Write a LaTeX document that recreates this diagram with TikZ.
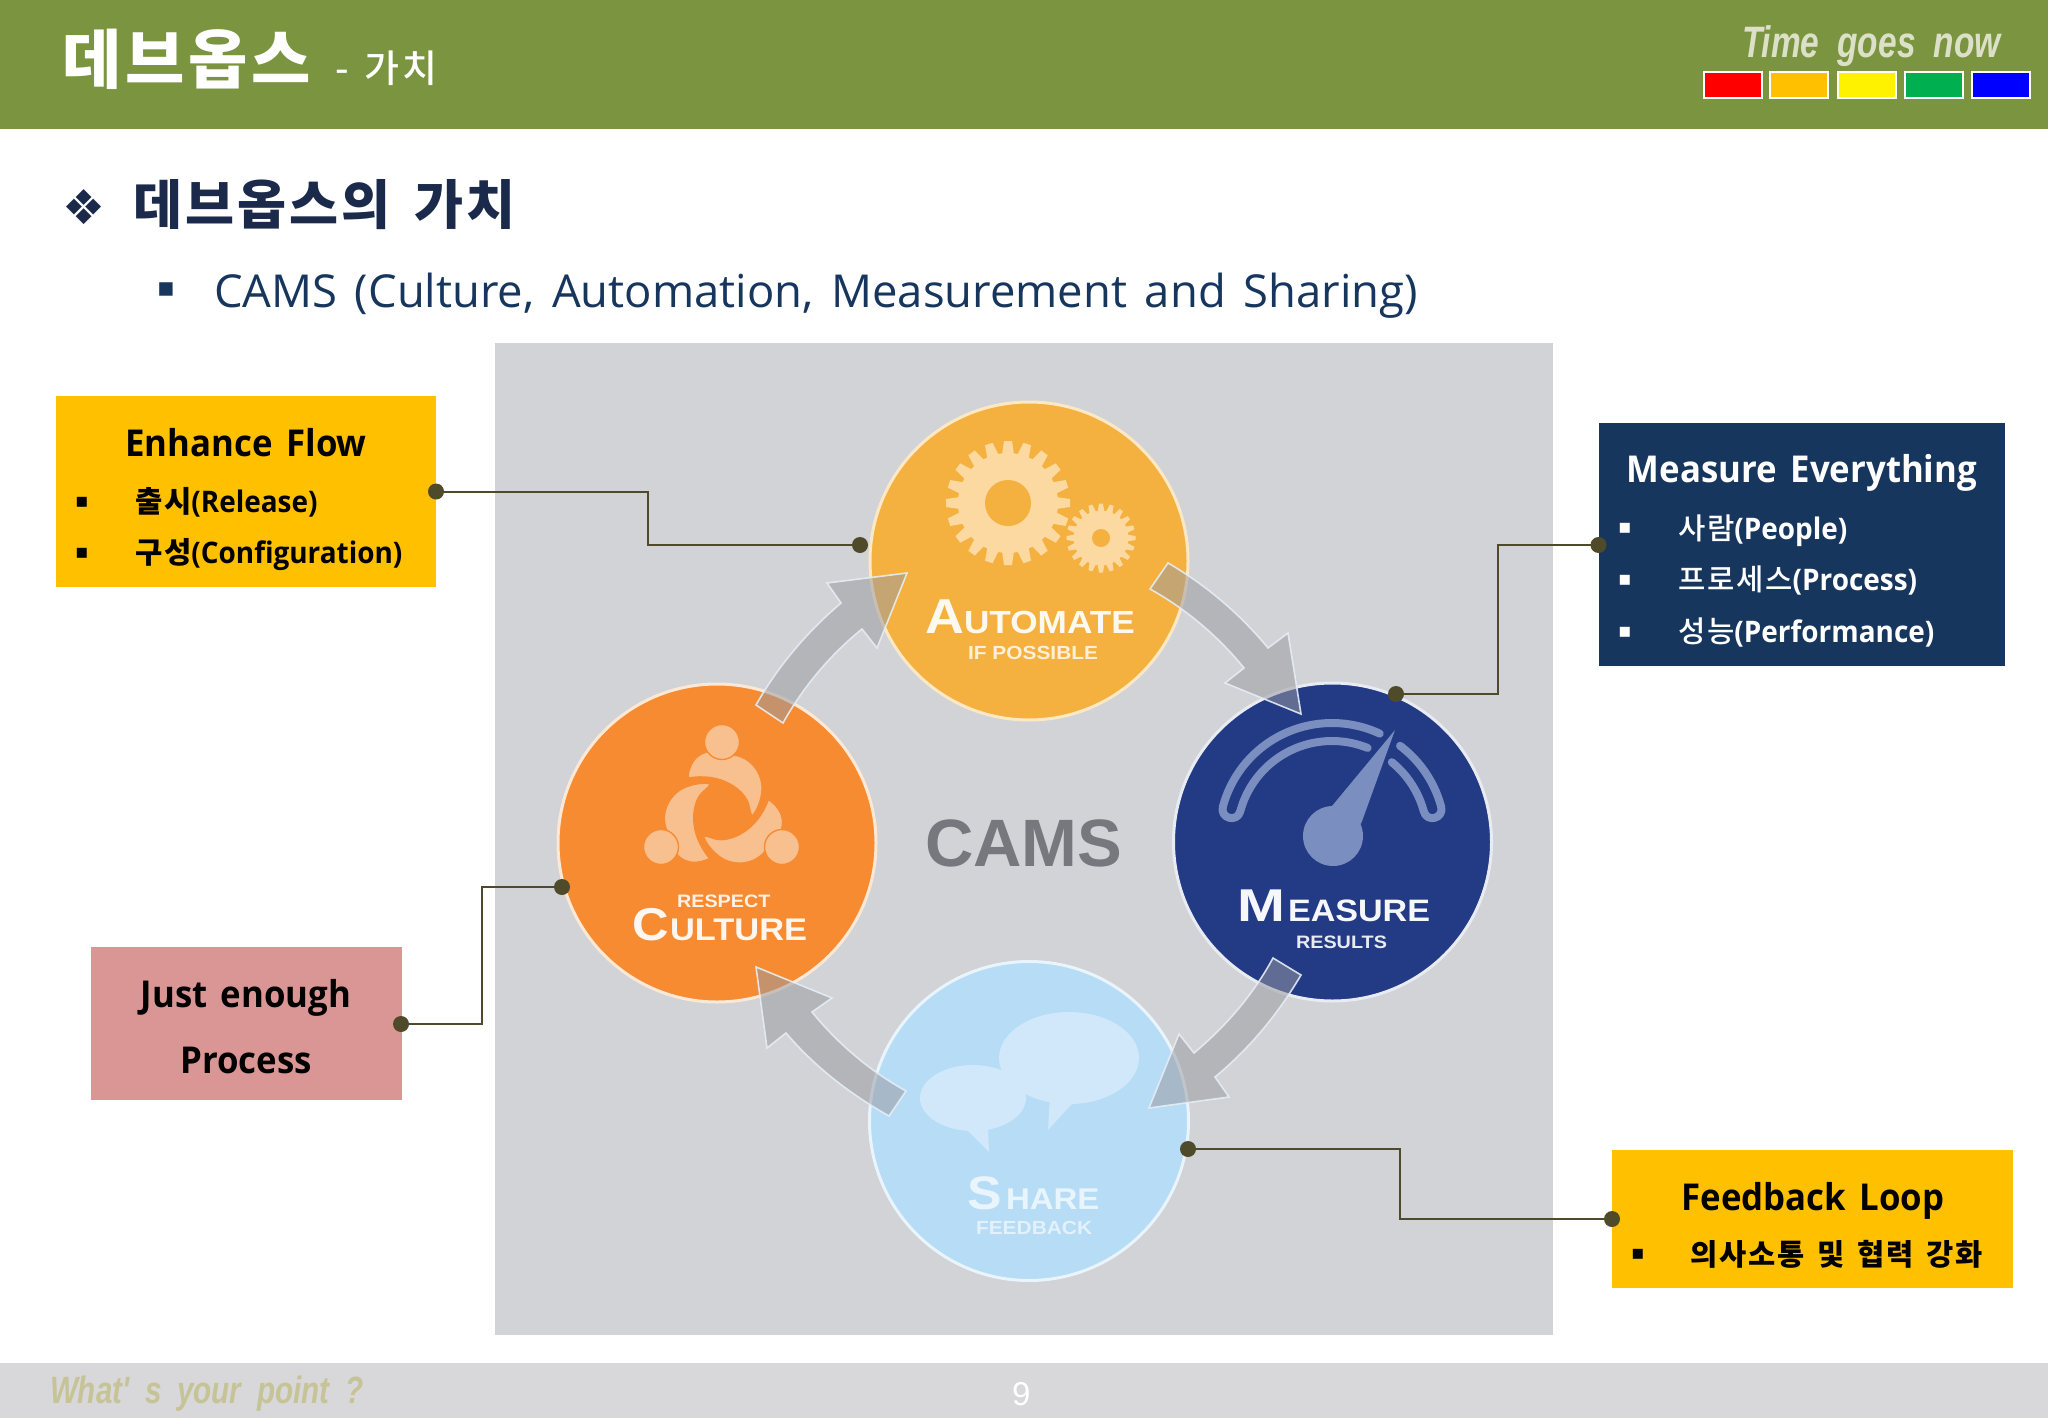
\documentclass[tikz,border=0pt]{standalone}
\usepackage{fontspec}
\setmainfont{Open Sans}[WordSpace=1.5]
\newfontfamily\seg{Open Sans}[WordSpace=1.5,FakeStretch=0.94]
\newfontfamily\kr{Noto Sans CJK KR}
\newfontfamily\krw{Noto Sans CJK KR}[LetterSpace=6,WordSpace=1.5]
\newfontfamily\krm{Noto Sans CJK KR Medium}[LetterSpace=6,WordSpace=1.5]
\newfontfamily\dv{DejaVu Sans}
\newfontfamily\wid{Liberation Sans}[FakeStretch=1.1]
\newfontfamily\widm{Liberation Sans}[FakeStretch=1.25]
\newfontfamily\nar{Liberation Sans}[FakeStretch=0.76,WordSpace=1.95]
\newfontfamily\narf{Liberation Sans}[FakeStretch=0.78,WordSpace=1.9]
\newfontfamily\lib{Liberation Sans}
\newcommand\pxs[1]{\fontsize{#1}{#1}\selectfont}
\definecolor{hdr}{HTML}{7A943F}
\definecolor{foot}{HTML}{D8D7DA}
\definecolor{panel}{HTML}{D1D3D6}
\definecolor{navy}{HTML}{17365D}
\definecolor{amber}{HTML}{FFC000}
\definecolor{rosec}{HTML}{D99694}
\definecolor{leadc}{HTML}{4F4A2A}
\definecolor{cauto}{HTML}{F5B13F}
\definecolor{ccult}{HTML}{F68B32}
\definecolor{cmeas}{HTML}{233A85}
\definecolor{cshar}{HTML}{B7DCF5}
\definecolor{gearc}{HTML}{FBD9A0}
\definecolor{peop}{HTML}{F9C08F}
\definecolor{gauge}{HTML}{7A8EBF}
\definecolor{bubb}{HTML}{D0E8FA}
\definecolor{arrf}{HTML}{999AA0}
\definecolor{arrl}{HTML}{E6EDF5}
\definecolor{headc}{HTML}{1B2A4A}
\definecolor{tgnc}{HTML}{DDE0C8}
\definecolor{wypc}{HTML}{C6C496}
\definecolor{camsc}{HTML}{76787E}
\definecolor{swg}{HTML}{00B050}
\tikzset{
  txt/.style={inner sep=0pt,outer sep=0pt,anchor=base west},
  ctxt/.style={inner sep=0pt,outer sep=0pt,anchor=base},
  boxn/.style={rectangle,inner sep=0pt,outer sep=0pt,draw=none,anchor=north west},
  disc/.style={circle,inner sep=0pt,outer sep=0pt,minimum size=#1*2,line width=3pt},
  dotn/.style={circle,fill=leadc,inner sep=0pt,outer sep=0pt,minimum size=16pt},
  leader/.style={draw=leadc,line width=2pt},
  blockarrow/.style={fill=arrf,fill opacity=.52,draw=arrl,draw opacity=.9,line width=1.6pt,line join=miter},
  swatch/.style={rectangle,draw=white,line width=2pt,inner sep=0pt,outer sep=0pt,minimum width=58pt,minimum height=26pt},
  bul/.style={inner sep=0pt,outer sep=0pt,anchor=center},
}
\begin{document}
\begin{tikzpicture}[x=1pt,y=-1pt]
\useasboundingbox (0,0) rectangle (2048,1418);
\fill[white] (0,0) rectangle (2048,1418);
% bars
\fill[hdr] (0,0) rectangle (2048,129);
\fill[foot] (0,1363) rectangle (2048,1418);
\node[txt,text=white] (title) at (62,84) {\krw\bfseries\pxs{64.5}데브옵스};
\node[txt,text=white] (subt) at (335,83) {\krm\pxs{38}- 가치};
\node[txt,text=tgnc] (tgn) at (1742,58) {\nar\bfseries\itshape\pxs{44}Time goes now};
\node[swatch,fill=red] (s1) at (1732.5,85.5) {};
\node[swatch,fill=amber] (s2) at (1799,85.5) {};
\node[swatch,fill=yellow] (s3) at (1866.5,85.5) {};
\node[swatch,fill=swg] (s4) at (1933.5,85.5) {};
\node[swatch,fill=blue] (s5) at (2001,85.5) {};
\node[txt,text=wypc] (wyp) at (50,1403) {\narf\bfseries\itshape\pxs{38}What' s your point ?};
\node[txt,text=white] (pg) at (1012,1405) {\lib\pxs{33}9};
% headings
\node[bul,text=headc] (hb) at (84,207) {\dv\pxs{48}❖};
\node[txt,text=headc] (h1) at (133,224) {\krw\bfseries\pxs{53.3}데브옵스의 가치};
\node[bul,text=navy] (hb2) at (166,290) {\dv\pxs{27}▪};
\node[txt,text=navy] (h2) at (214,307) {\pxs{45.4}CAMS (Culture, Automation, Measurement and Sharing)};
% panel
\node[boxn,fill=panel,minimum width=1058pt,minimum height=992pt] (panel) at (495,343) {};
% circles
\node[disc=159pt,fill=cauto,draw=cauto!30!white] (auto) at (1029,561) {};
\node[disc=159pt,fill=ccult,draw=ccult!20!white] (cult) at (717,843) {};
\node[disc=159pt,fill=cmeas,draw=white!90!cmeas] (meas) at (1332.5,842) {};
\node[disc=159.5pt,fill=cshar,draw=cshar!30!white] (shar) at (1029,1121) {};
% gears
\begin{scope}[shift={(1008,503)}]
\foreach \a in {0,18,...,342} \fill[gearc,rotate=\a] (-6,-48) -- (-4,-62) -- (4,-62) -- (6,-48) -- cycle;
\fill[gearc] (0,0) circle (50);
\fill[cauto] (0,0) circle (23);
\end{scope}
\begin{scope}[shift={(1101,538)}]
\foreach \a in {0,18,...,342} \fill[gearc,rotate=\a] (-3.4,-26) -- (-2,-34.5) -- (2,-34.5) -- (3.4,-26) -- cycle;
\fill[gearc] (0,0) circle (27.5);
\fill[cauto] (0,0) circle (9);
\end{scope}
% people
\foreach \r in {0,120,240}{
  \filldraw[fill=peop,draw=ccult,line width=1.2pt,rotate around={\r:(722,812)}] (688,778) .. controls (689,765) and (695,755) .. (707,752) -- (722,756)
    .. controls (745,750) and (763,770) .. (762,790) .. controls (761,802) and (756,812) .. (752,816)
    .. controls (749,810) and (750,805) .. (747,800) .. controls (742,790) and (722,772) .. (688,778) -- cycle;
}
\foreach \p in {(722,742),(661,847),(782,847)}
  \filldraw[fill=peop,draw=ccult,line width=1.4pt] \p circle (17.5);
% gauge
\draw[gauge,line width=8pt,line cap=round,line join=round]
  plot[domain=65:165,samples=40,smooth] ({1332+113*cos(\x)},{836-113*sin(\x)})
  .. controls (1219.8,818.4) and (1237.1,823) .. (1240.2,811.4)
  -- plot[domain=165:68,samples=40,smooth] ({1332+95*cos(\x)},{836-95*sin(\x)});
\draw[gauge,line width=8pt,line cap=round,line join=round]
  plot[domain=53:15,samples=20,smooth] ({1332+113*cos(\x)},{836-113*sin(\x)})
  .. controls (1444.2,818.4) and (1426.9,823) .. (1423.8,811.4)
  -- plot[domain=15:51,samples=20,smooth] ({1332+95*cos(\x)},{836-95*sin(\x)});
\fill[gauge] (1333,836) circle (30);
\fill[gauge,line join=round] (1332,806) -- (1395,730) -- (1361,824) -- cycle;
% bubbles
\fill[bubb] (1069,1058) ellipse (70 and 46);
\fill[bubb] (1050,1095) -- (1048,1130) -- (1080,1095) -- cycle;
\fill[bubb] (973,1098) ellipse (53 and 33);
\fill[bubb] (965,1128) -- (989,1152) -- (988,1125) -- cycle;
% labels in circles
\node[txt,text=white!92!cauto] (a1) at (925,633) {\wid\bfseries\pxs{49}A};
\node[txt,text=white!92!cauto] (a2) at (964,633) {\wid\bfseries\pxs{32}UTOMATE};
\node[txt,text=white!80!cauto] (a3) at (968,659) {\wid\bfseries\pxs{19}IF POSSIBLE};
\node[txt,text=white!88!ccult] (c1) at (677,907) {\wid\bfseries\pxs{18}RESPECT};
\node[txt,text=white!92!ccult] (c2) at (632,940) {\wid\bfseries\pxs{46}C};
\node[txt,text=white!92!ccult] (c3) at (670,940) {\wid\bfseries\pxs{31.3}ULTURE};
\node[txt,text=white!96!cmeas] (m1) at (1237,921) {\widm\bfseries\pxs{46}M};
\node[txt,text=white!96!cmeas] (m2) at (1288,921) {\wid\bfseries\pxs{31}EASURE};
\node[txt,text=white!90!cmeas] (m3) at (1296,948) {\wid\bfseries\pxs{18}RESULTS};
\node[txt,text=white!70!cshar] (s1t) at (967,1209) {\wid\bfseries\pxs{47}S};
\node[txt,text=white!70!cshar] (s2t) at (1006,1209) {\wid\bfseries\pxs{30}HARE};
\node[txt,text=white!60!cshar] (s3t) at (976,1234) {\wid\bfseries\pxs{19}FEEDBACK};
\node[txt,text=camsc] (cams) at (925,866) {\lib\bfseries\pxs{67}CAMS};
% block arrows
\path[blockarrow] (756,705) .. controls (778,666) and (807,632) .. (841,603) -- (827,583) -- (907,573) -- (877,648) -- (862,629) .. controls (830,655) and (803,687) .. (783,723) -- cycle;
\path[blockarrow] (1168,563) .. controls (1206,585) and (1240,614) .. (1268,648) -- (1288,633) -- (1301,714) -- (1225,683) -- (1244,668) .. controls (1218,636) and (1186,609) .. (1150,589) -- cycle;
\path[blockarrow] (1301,975) .. controls (1278,1014) and (1250,1048) .. (1215,1077) -- (1229,1097) -- (1149,1108) -- (1179,1034) -- (1194,1053) .. controls (1226,1026) and (1253,995) .. (1273,958) -- cycle;
\path[blockarrow] (906,1091) .. controls (870,1071) and (838,1044) .. (812,1012) -- (832,998) -- (756,967) -- (767,1048) -- (786,1033) .. controls (815,1067) and (850,1094) .. (889,1116) -- cycle;
% boxes
\node[boxn,fill=amber,minimum width=380pt,minimum height=191pt] (enh) at (56,396) {};
\node[boxn,fill=navy,minimum width=406pt,minimum height=243pt] (mev) at (1599,423) {};
\node[boxn,fill=rosec,minimum width=311pt,minimum height=153pt] (jep) at (90.5,947) {};
\node[boxn,fill=amber,minimum width=401pt,minimum height=138pt] (fbl) at (1612,1150) {};
% box text
\node[ctxt,text=black] (e0) at (246,456) {\seg\bfseries\pxs{37}Enhance Flow};
\node[bul] (e1b) at (82,502) {\dv\pxs{20}▪};
\node[bul] (e2b) at (82,553) {\dv\pxs{20}▪};
\node[txt] (e1) at (135,512) {\seg\bfseries\pxs{29.7}{\krw 출시}(Release)};
\node[txt] (e2) at (135,563) {\seg\bfseries\pxs{29.7}{\krw 구성}(Configuration)};
\node[ctxt,text=white] (v0) at (1802,482) {\seg\bfseries\pxs{37}Measure Everything};
\node[bul,text=white] (v1b) at (1625,528) {\dv\pxs{20}▪};
\node[bul,text=white] (v2b) at (1625,580) {\dv\pxs{20}▪};
\node[bul,text=white] (v3b) at (1625,632) {\dv\pxs{20}▪};
\node[txt,text=white] (v1) at (1678,539) {\seg\bfseries\pxs{29.7}{\krm\mdseries 사람}(People)};
\node[txt,text=white] (v2) at (1678,590) {\seg\bfseries\pxs{29.7}{\krm\mdseries 프로세스}(Process)};
\node[txt,text=white] (v3) at (1678,642) {\seg\bfseries\pxs{29.7}{\krm\mdseries 성능}(Performance)};
\node[ctxt] (j1) at (246,1007) {\seg\bfseries\pxs{37}Just enough};
\node[ctxt] (j2) at (246,1073) {\seg\bfseries\pxs{37}Process};
\node[ctxt] (f0) at (1813,1210) {\seg\bfseries\pxs{37}Feedback Loop};
\node[bul] (f1b) at (1638,1254) {\dv\pxs{20}▪};
\node[txt] (f1) at (1690,1265) {\krw\bfseries\pxs{29.6}의사소통 및 협력 강화};
% leaders
\node[dotn] (d1) at (436,491.5) {};
\node[dotn] (d2) at (860,545) {};
\node[dotn] (d3) at (1396,694) {};
\node[dotn] (d4) at (1598.5,545) {};
\node[dotn] (d5) at (562,887) {};
\node[dotn] (d6) at (401,1024) {};
\node[dotn] (d7) at (1188,1149) {};
\node[dotn] (d8) at (1612,1219) {};
\draw[leader] (d1.center) -- ++(212,0) |- (d2.center);
\draw[leader] (d3.center) -- ++(101.5,0) |- (d4.center);
\draw[leader] (d5.center) -- ++(-80,0) |- (d6.center);
\draw[leader] (d7.center) -- ++(212,0) |- (d8.center);
\end{tikzpicture}
\end{document}
